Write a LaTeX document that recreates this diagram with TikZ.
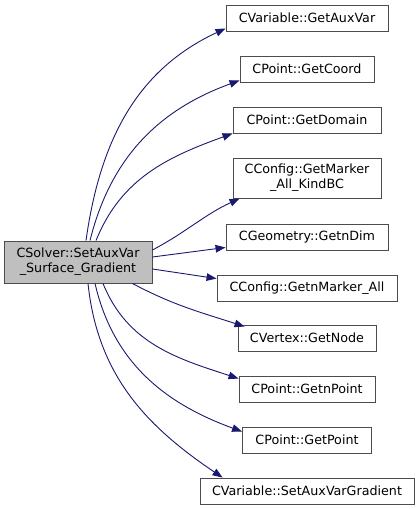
\documentclass[tikz,border=0pt]{standalone}
\usepackage{fontspec}
\setmainfont{DejaVu Sans}
\usetikzlibrary{arrows.meta}
\definecolor{callblue}{HTML}{191970}
\tikzset{
  fnbox/.style={draw=black!70, line width=0.9pt, rectangle, align=center, font=\fontsize{12.7}{15}\selectfont, minimum height=26pt, inner sep=2pt, fill=white},
  mainbox/.style={fnbox, fill=black!25, minimum height=42pt},
  call/.style={-{Triangle[length=10pt, width=7.5pt]}, draw=callblue, line width=0.9pt},
}

\begin{document}
\begin{tikzpicture}[x=1pt, y=-1pt]
\useasboundingbox (0,0) rectangle (420,509);
\node[mainbox, minimum width=148pt] (main) at (78,262) {CSolver::SetAuxVar\\\_Surface\_Gradient};
\node[fnbox, minimum width=162pt] (auxvar) at (307,18) {CVariable::GetAuxVar};
\node[fnbox, minimum width=134pt] (coord) at (307,69) {CPoint::GetCoord};
\node[fnbox, minimum width=148pt] (domain) at (307,120) {CPoint::GetDomain};
\node[fnbox, minimum width=148pt, minimum height=40pt] (kindbc) at (307,178) {CConfig::GetMarker\\\_All\_KindBC};
\node[fnbox, minimum width=162pt] (ndim) at (307,237) {CGeometry::GetnDim};
\node[fnbox, minimum width=180pt] (nmarker) at (307,288) {CConfig::GetnMarker\_All};
\node[fnbox, minimum width=138pt] (getnode) at (307,338) {CVertex::GetNode};
\node[fnbox, minimum width=136pt] (npoint) at (307,389) {CPoint::GetnPoint};
\node[fnbox, minimum width=129pt] (point) at (307,440) {CPoint::GetPoint};
\node[fnbox, minimum width=214pt] (setgrad) at (307,491) {CVariable::SetAuxVarGradient};
% calls going up
\draw[call] ([xshift=8pt]main.north) to[out=82, in=205] ([yshift=3pt]auxvar.south west);
\draw[call] ([xshift=12pt]main.north) to[out=76, in=200] ([yshift=2pt]coord.south west);
\draw[call] ([xshift=18pt]main.north) to[out=68, in=200] (domain.south west);
\draw[call] ([yshift=12pt]main.east) to[out=28, in=205] ([xshift=7pt]kindbc.south west);
\draw[call] ([yshift=5pt]main.east) -- ([yshift=3pt]ndim.south west);
% calls going down
\draw[call] ([yshift=-7pt]main.east) -- ([yshift=-4pt]nmarker.north west);
\draw[call] ([xshift=-20pt]main.south east) to[out=-28, in=162] ([xshift=7pt, yshift=-2pt]getnode.north west);
\draw[call] ([xshift=25pt]main.south) to[out=-68, in=162] ([yshift=-3pt]npoint.north west);
\draw[call] ([xshift=17pt]main.south) to[out=-77, in=160] ([yshift=-5pt]point.north west);
\draw[call] ([xshift=10pt]main.south) to[out=-84, in=146] ([xshift=23pt]setgrad.north west);
\end{tikzpicture}
\end{document}
